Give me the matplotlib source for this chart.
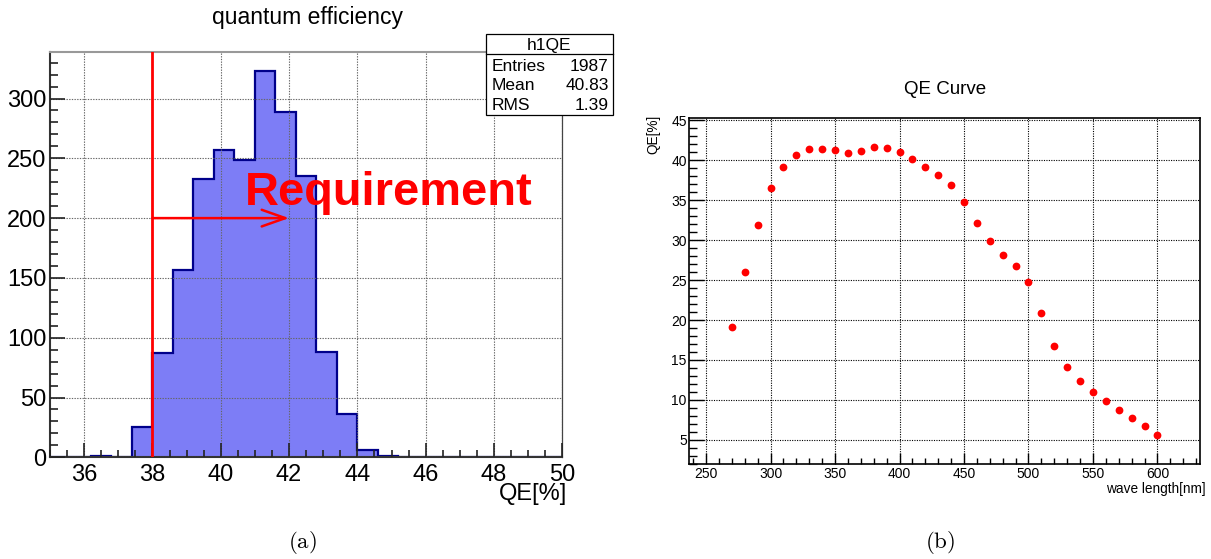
import numpy as np
import matplotlib
matplotlib.use("Agg")
import matplotlib.pyplot as plt
from matplotlib.patches import Rectangle
from matplotlib.lines import Line2D
from matplotlib.ticker import MultipleLocator

plt.rcParams['font.family'] = ['Liberation Sans', 'DejaVu Sans']
plt.rcParams['mathtext.fontset'] = 'cm'

# QE distribution of the tubes, 0.6 % bins starting at 35 %
qe_bin_start = 35.0
qe_bin_width = 0.6
qe_counts = [0, 0, 1, 0, 25, 87, 157, 233, 257, 249, 323, 289, 235,
             88, 36, 6, 1, 0, 0, 0, 0, 0, 0, 0, 0]
qe_requirement = 38.0
hist_name = "h1QE"
hist_stats = [("Entries", "1987"), ("Mean", "40.83"), ("RMS", "1.39")]

# QE as a function of wavelength
wavelength = [270, 280, 290, 300, 310, 320, 330, 340, 350, 360, 370, 380,
              390, 400, 410, 420, 430, 440, 450, 460, 470, 480, 490, 500,
              510, 520, 530, 540, 550, 560, 570, 580, 590, 600]
qe_curve = [19.1, 26.0, 31.9, 36.5, 39.2, 40.7, 41.4, 41.4, 41.3, 40.9,
            41.1, 41.7, 41.5, 41.0, 40.1, 39.2, 38.2, 36.9, 34.8, 32.1,
            29.9, 28.1, 26.7, 24.8, 20.9, 16.7, 14.1, 12.4, 11.0, 9.9,
            8.8, 7.7, 6.7, 5.6]

W, H = 1211, 559
fig = plt.figure(figsize=(W / 100, H / 100), dpi=100)


def px(x, y):
    return x / W, 1 - y / H


# ---------------- (a) histogram ----------------
ax1 = fig.add_axes([50 / W, 1 - 457.3 / H, 512.3 / W, 405.6 / H])
edges = qe_bin_start + qe_bin_width * np.arange(len(qe_counts) + 1)
ax1.stairs(qe_counts, edges, fill=True, facecolor='#7d7df6',
           edgecolor='#00008b', linewidth=1.6, zorder=1)
ax1.set_xlim(35, 50)
ax1.set_ylim(0, 1.05 * max(qe_counts))
ax1.xaxis.set_major_locator(MultipleLocator(2))
ax1.xaxis.set_minor_locator(MultipleLocator(0.5))
ax1.yaxis.set_major_locator(MultipleLocator(50))
ax1.yaxis.set_minor_locator(MultipleLocator(10))
ax1.tick_params(axis='both', which='both', direction='in', top=False,
                right=False, colors='#222222', labelcolor='black',
                labelsize=17, width=1.2)
ax1.tick_params(axis='x', which='major', length=10, pad=4.5)
ax1.tick_params(axis='x', which='minor', length=5)
ax1.tick_params(axis='y', which='major', length=11, pad=2.5)
ax1.tick_params(axis='y', which='minor', length=5.5)
ax1.set_axisbelow(False)
ax1.grid(True, which='major', color='#666666', linestyle=(0, (1.2, 1.2)),
         linewidth=0.8)
for side in ('left', 'bottom'):
    ax1.spines[side].set_color('#333333')
    ax1.spines[side].set_linewidth(1.5)
ax1.spines['right'].set_color('#444444')
ax1.spines['right'].set_linewidth(0.9)
ax1.spines['top'].set_color('#999999')
ax1.spines['top'].set_linewidth(1.5)

# requirement marker
ax1.axvline(qe_requirement, color='red', linewidth=2.0, zorder=4)
ax1.annotate('', xy=(42.0, 200), xytext=(qe_requirement, 200),
             arrowprops=dict(arrowstyle='->,head_length=1.7,head_width=0.6',
                             color='red', lw=1.8, shrinkA=0, shrinkB=0),
             zorder=4)
ax1.text(40.7, 211, 'Requirement', color='red', fontsize=33.8,
         fontweight='bold', ha='left', va='baseline', zorder=5)

fig.text(*px(308, 24), 'quantum efficiency', fontsize=16.5,
         ha='center', va='baseline')
fig.text(*px(567, 500), 'QE[%]', fontsize=17, ha='right', va='baseline')

# statistics box
bx0, by0, bx1, by1 = 486, 33.7, 613, 115
fig.patches.append(Rectangle(px(bx0, by1), (bx1 - bx0) / W, (by1 - by0) / H,
                             transform=fig.transFigure, facecolor='white',
                             edgecolor='black', linewidth=0.9, zorder=10))
fig.lines.append(Line2D([bx0 / W, bx1 / W], [1 - 54.3 / H, 1 - 54.3 / H],
                        transform=fig.transFigure, color='black',
                        linewidth=0.9, zorder=11))
fig.text(*px((bx0 + bx1) / 2, 50), hist_name, fontsize=12.5,
         ha='center', va='baseline', zorder=12)
for i, (name, val) in enumerate(hist_stats):
    yb = 71 + 19.5 * i
    fig.text(*px(491.5, yb), name, fontsize=12.5, ha='left',
             va='baseline', zorder=12)
    fig.text(*px(608.5, yb), val, fontsize=12.5, ha='right',
             va='baseline', zorder=12)

fig.text(*px(302, 543), r'$\mathrm{(a)}$', fontsize=16.5,
         ha='center', va='center')

# ---------------- (b) QE curve ----------------
ax2 = fig.add_axes([689.3 / W, 1 - 464 / H, 510.7 / W, 346.3 / H])
ax2.plot(wavelength, qe_curve, linestyle='none', marker='o',
         markersize=5.6, color='red', markeredgewidth=0, zorder=3)
span_x = max(wavelength) - min(wavelength)
span_y = max(qe_curve) - min(qe_curve)
ax2.set_xlim(min(wavelength) - 0.1 * span_x, max(wavelength) + 0.1 * span_x)
ax2.set_ylim(min(qe_curve) - 0.1 * span_y, max(qe_curve) + 0.1 * span_y)
ax2.xaxis.set_major_locator(MultipleLocator(50))
ax2.xaxis.set_minor_locator(MultipleLocator(10))
ax2.yaxis.set_major_locator(MultipleLocator(5))
ax2.yaxis.set_minor_locator(MultipleLocator(1))
ax2.tick_params(axis='both', which='both', direction='in', top=False,
                right=False, colors='black', labelsize=10, width=1.0)
ax2.tick_params(axis='x', which='major', length=8, pad=2.5)
ax2.tick_params(axis='x', which='minor', length=4)
ax2.tick_params(axis='y', which='major', length=11, pad=1.8)
ax2.tick_params(axis='y', which='minor', length=6)
ax2.grid(True, which='major', color='black', linestyle=(0, (1.0, 1.2)),
         linewidth=0.8)
for s in ax2.spines.values():
    s.set_linewidth(1.2)

fig.text(*px(945, 94), 'QE Curve', fontsize=13.5, ha='center',
         va='baseline')
fig.text(*px(653, 115), 'QE[%]', fontsize=9.8, rotation=90,
         ha='center', va='top')
fig.text(*px(1206, 492.5), 'wave length[nm]', fontsize=9.8, ha='right',
         va='baseline')
fig.text(*px(940.5, 542.5), r'$\mathrm{(b)}$', fontsize=16.5,
         ha='center', va='center')

fig.savefig('out.png', dpi=100)
